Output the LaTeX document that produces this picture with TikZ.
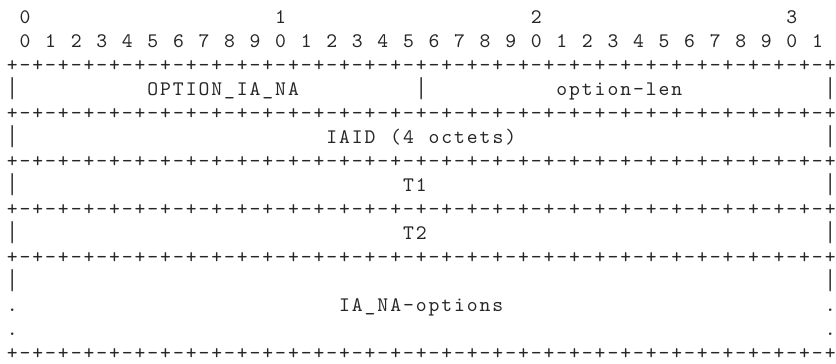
\documentclass[tikz,border=0pt]{standalone}
\usepackage{fontspec}
\usepackage{tikz}
\newfontfamily\asciifont{lmmono10-regular.otf}
% one character per fixed-width cell
\newlength{\monopitch}
\setlength{\monopitch}{9.585pt}
\def\monoend{monoend-marker}
\def\monostep#1{\ifx#1\monoend\else\makebox[\monopitch]{#1}\expandafter\monostep\fi}
\newcommand{\mono}[1]{\monostep#1\monoend}
\newcommand{\vbar}{\raisebox{-1.7pt}{\scalebox{1}[1.4]{|}}}
\newcommand{\dashrun}{+-+-+-+-+-+-+-+-}
\edef\sepline{\dashrun\dashrun\dashrun\dashrun+}
\tikzset{x=9.585pt, y=18pt,
	ascii/.style={
		anchor=base west,
		inner sep=0pt,
		outer sep=0pt,
		text=black!85,
		font=\asciifont\fontsize{15.5pt}{18pt}\selectfont
	}
}
\begin{document}
\begin{tikzpicture}
	\useasboundingbox (-4.43pt,17.63pt) rectangle (622.58pt,-254.63pt);
	% bit ruler
	\foreach \t in {0,...,3}
		\node[ascii] (tens\t) at ({1+20*\t},0) {\mono{\t}};
	\foreach \b [evaluate=\b as \d using {int(mod(\b,10))}] in {0,...,31}
		\node[ascii] (bit\b) at ({1+2*\b},-1) {\mono{\d}};
	% separator lines
	\foreach \r in {2,4,6,8,10,14}
		\node[ascii] (sep\r) at (0,-\r) {\expandafter\mono\expandafter{\sepline}};
	% side bars
	\foreach \r in {3,5,7,9,11} {
		\node[ascii] (barL\r) at (0,-\r) {\mono{\vbar}};
		\node[ascii] (barR\r) at (64,-\r) {\mono{\vbar}};
	}
	\node[ascii] (barM3) at (32,-3) {\mono{\vbar}};
	\foreach \r in {12,13} {
		\node[ascii] (dotL\r) at (0,-\r) {\mono{.}};
		\node[ascii] (dotR\r) at (64,-\r) {\mono{.}};
	}
	% fields
	\node[ascii] (code) at (11,-3) {\mono{OPTION\_IA\_NA}};
	\node[ascii] (len) at (43,-3) {\mono{option-len}};
	\node[ascii] (iaid) at (25,-5) {\mono{IAID~(4~octets)}};
	\node[ascii] (tone) at (31,-7) {\mono{T1}};
	\node[ascii] (ttwo) at (31,-9) {\mono{T2}};
	\node[ascii] (opts) at (26,-12) {\mono{IA\_NA-options}};
\end{tikzpicture}
\end{document}
